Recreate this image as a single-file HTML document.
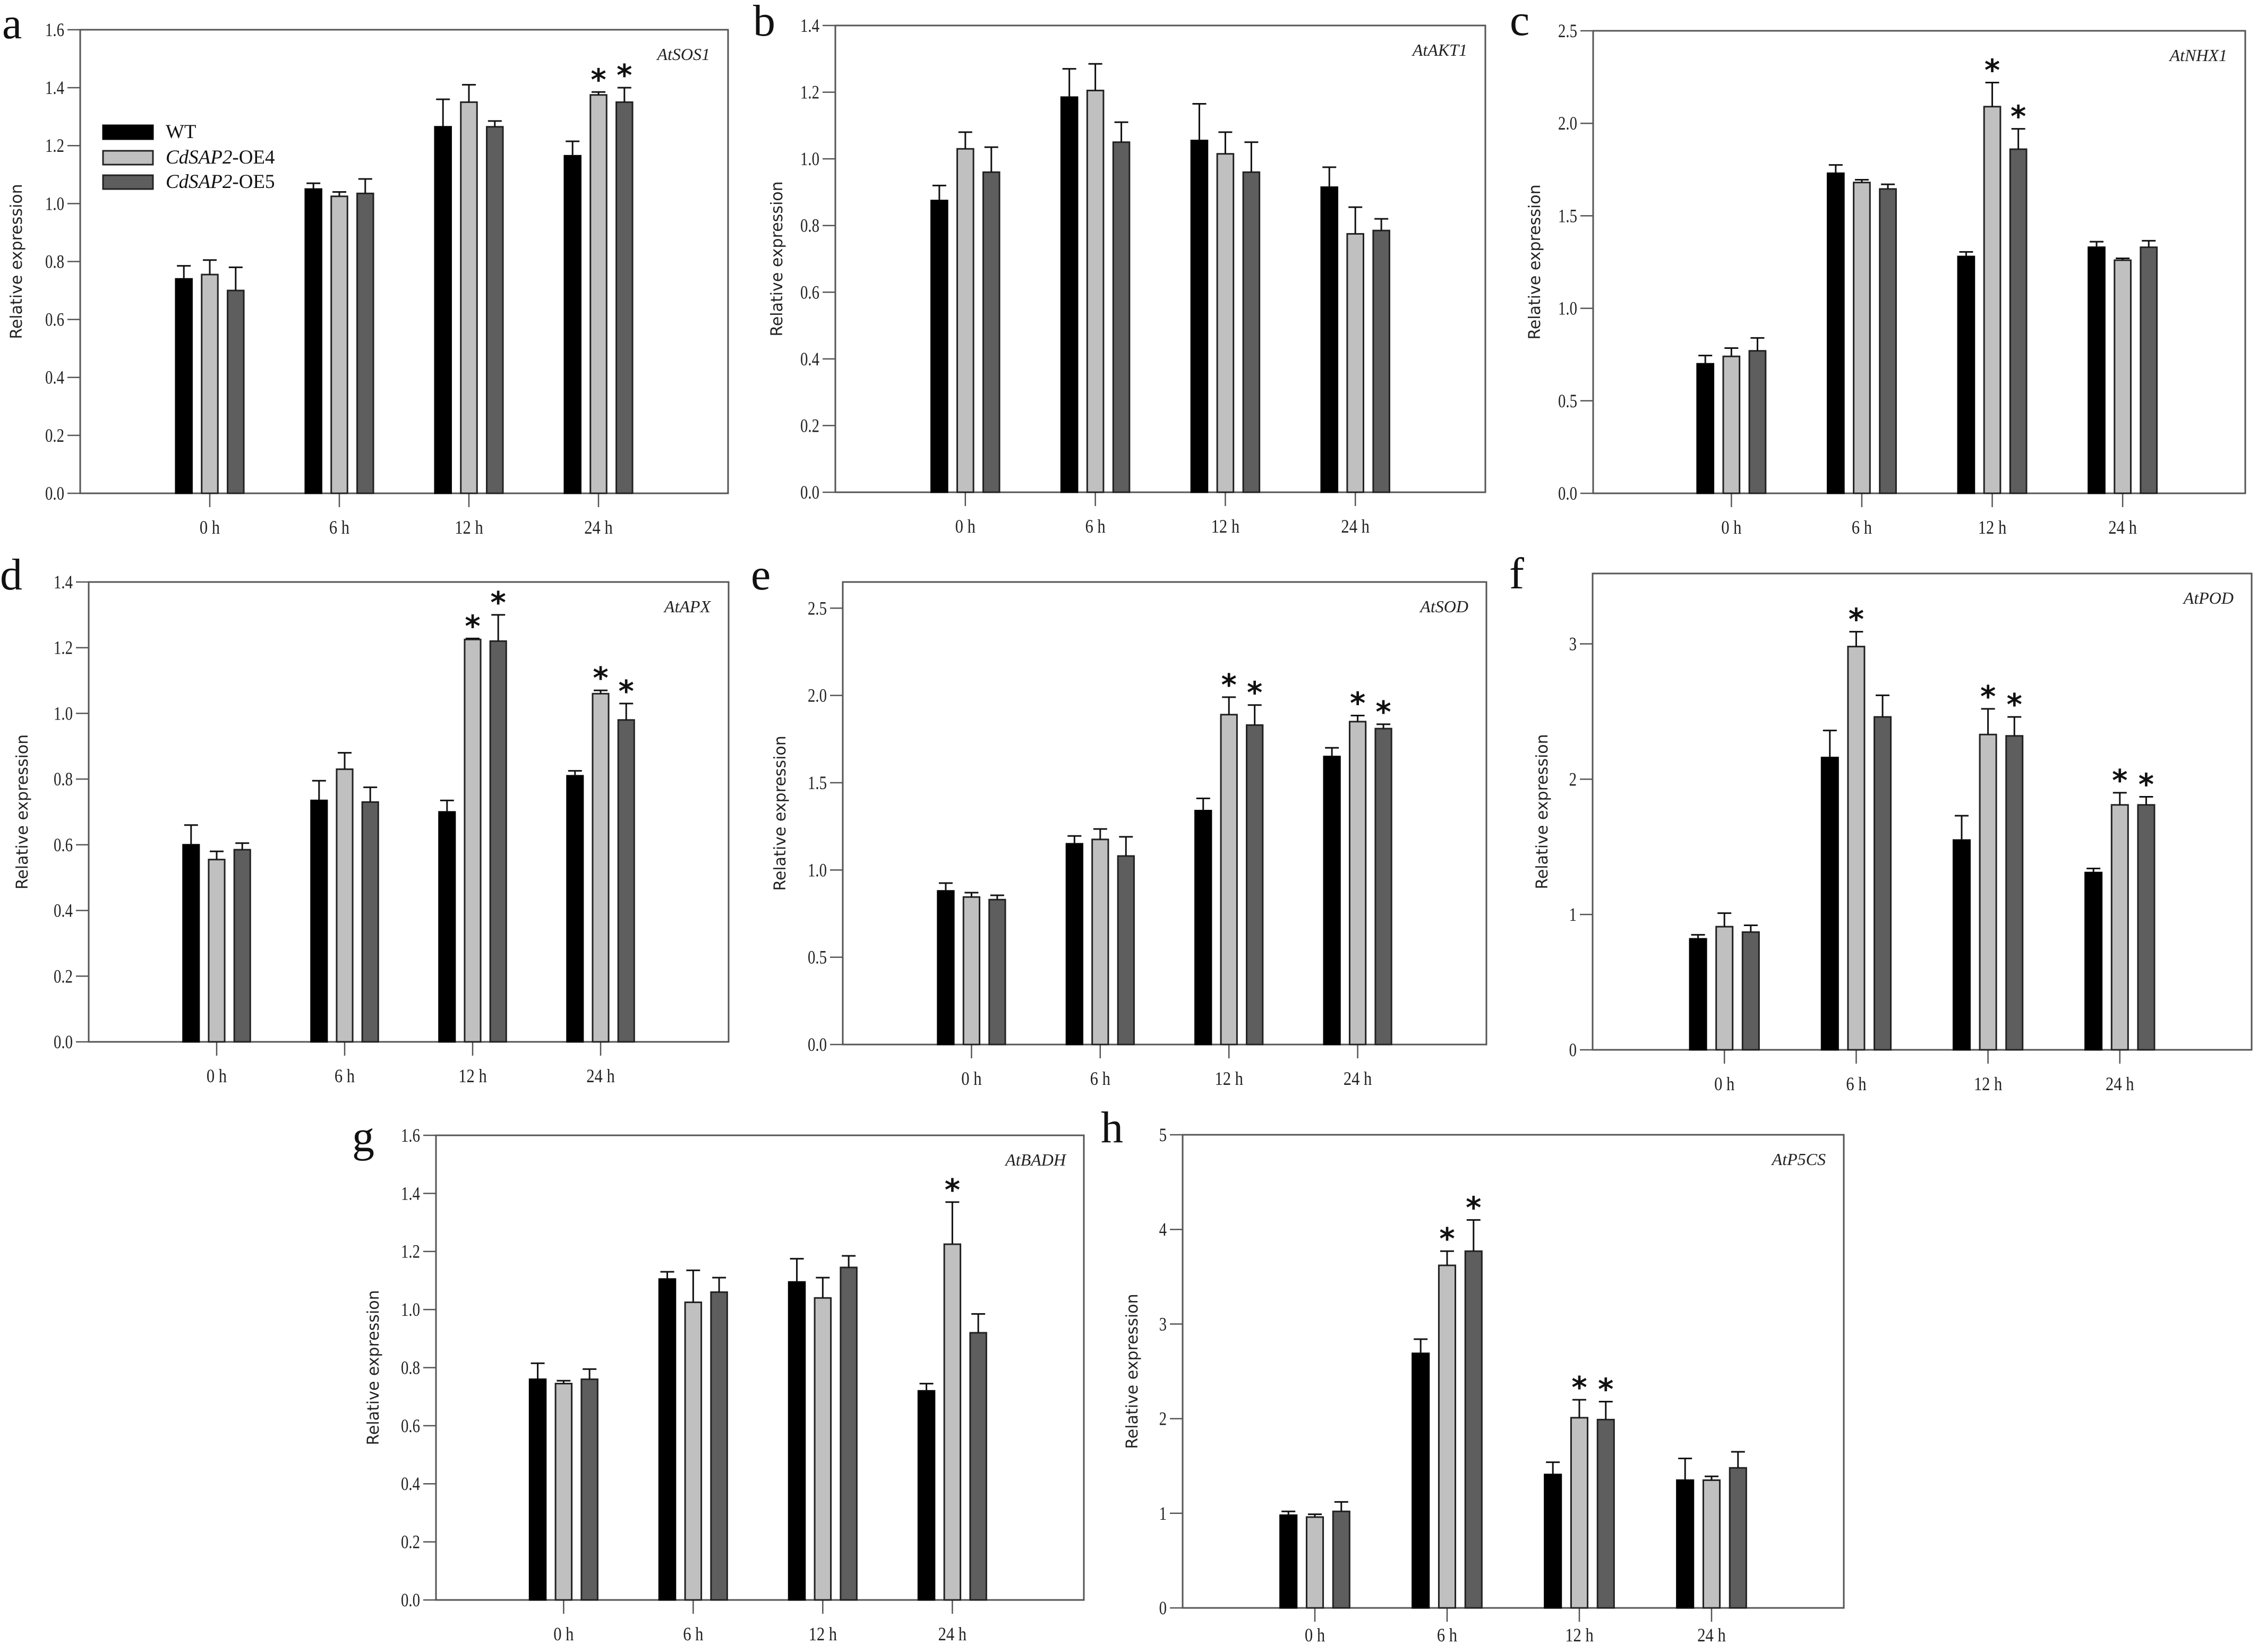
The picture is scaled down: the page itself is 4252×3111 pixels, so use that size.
<!DOCTYPE html>
<html><head><meta charset="utf-8"><style>
html,body{margin:0;padding:0;background:#fff;}
svg{display:block;}
</style></head><body>
<svg id="fig" width="4252" height="3111" viewBox="0 0 4252 3111" xmlns="http://www.w3.org/2000/svg">
<rect width="4252" height="3111" fill="#fff"/>
</svg>
<script>
// ---------- data ----------
const categories = ["0 h","6 h","12 h","24 h"];
const seriesNames = ["WT","OE4","OE5"];

const sos1_wt=[0.74,1.05,1.265,1.165], sos1_wt_err=[0.045,0.02,0.095,0.05];
const sos1_oe4=[0.755,1.025,1.35,1.375], sos1_oe4_err=[0.05,0.015,0.06,0.01];
const sos1_oe5=[0.70,1.035,1.265,1.35], sos1_oe5_err=[0.08,0.05,0.02,0.05];
const sos1_stars=[[3,1],[3,2]];
const sos1_ticks=[0,0.2,0.4,0.6,0.8,1.0,1.2,1.4,1.6];

const akt1_wt=[0.875,1.185,1.055,0.915], akt1_wt_err=[0.045,0.085,0.11,0.06];
const akt1_oe4=[1.03,1.205,1.015,0.775], akt1_oe4_err=[0.05,0.08,0.065,0.08];
const akt1_oe5=[0.96,1.05,0.96,0.785], akt1_oe5_err=[0.075,0.06,0.09,0.035];
const akt1_stars=[];
const akt1_ticks=[0,0.2,0.4,0.6,0.8,1.0,1.2,1.4];

const nhx1_wt=[0.70,1.73,1.28,1.33], nhx1_wt_err=[0.045,0.045,0.025,0.03];
const nhx1_oe4=[0.74,1.68,2.09,1.26], nhx1_oe4_err=[0.045,0.015,0.13,0.01];
const nhx1_oe5=[0.77,1.645,1.86,1.33], nhx1_oe5_err=[0.07,0.025,0.11,0.035];
const nhx1_stars=[[2,1],[2,2]];
const nhx1_ticks=[0,0.5,1.0,1.5,2.0,2.5];

const apx_wt=[0.60,0.735,0.70,0.81], apx_wt_err=[0.06,0.06,0.035,0.015];
const apx_oe4=[0.555,0.83,1.225,1.06], apx_oe4_err=[0.025,0.05,0.003,0.01];
const apx_oe5=[0.585,0.73,1.22,0.98], apx_oe5_err=[0.02,0.045,0.08,0.05];
const apx_stars=[[2,1],[2,2],[3,1],[3,2]];
const apx_ticks=[0,0.2,0.4,0.6,0.8,1.0,1.2,1.4];

const sod_wt=[0.88,1.15,1.34,1.65], sod_wt_err=[0.045,0.045,0.07,0.05];
const sod_oe4=[0.845,1.175,1.89,1.85], sod_oe4_err=[0.025,0.06,0.1,0.035];
const sod_oe5=[0.83,1.08,1.83,1.81], sod_oe5_err=[0.025,0.11,0.115,0.025];
const sod_stars=[[2,1],[2,2],[3,1],[3,2]];
const sod_ticks=[0,0.5,1.0,1.5,2.0,2.5];

const pod_wt=[0.82,2.16,1.55,1.31], pod_wt_err=[0.03,0.2,0.18,0.03];
const pod_oe4=[0.91,2.98,2.33,1.81], pod_oe4_err=[0.1,0.11,0.19,0.09];
const pod_oe5=[0.87,2.46,2.32,1.81], pod_oe5_err=[0.05,0.16,0.14,0.06];
const pod_stars=[[1,1],[2,1],[2,2],[3,1],[3,2]];
const pod_ticks=[0,1,2,3];

const badh_wt=[0.76,1.105,1.095,0.72], badh_wt_err=[0.055,0.025,0.08,0.025];
const badh_oe4=[0.745,1.025,1.04,1.225], badh_oe4_err=[0.01,0.11,0.07,0.145];
const badh_oe5=[0.76,1.06,1.145,0.92], badh_oe5_err=[0.035,0.05,0.04,0.065];
const badh_stars=[[3,1]];
const badh_ticks=[0,0.2,0.4,0.6,0.8,1.0,1.2,1.4,1.6];

const p5cs_wt=[0.98,2.69,1.41,1.35], p5cs_wt_err=[0.04,0.15,0.13,0.23];
const p5cs_oe4=[0.96,3.62,2.01,1.35], p5cs_oe4_err=[0.03,0.15,0.19,0.04];
const p5cs_oe5=[1.02,3.77,1.99,1.48], p5cs_oe5_err=[0.1,0.33,0.19,0.17];
const p5cs_stars=[[1,1],[1,2],[2,1],[2,2]];
const p5cs_ticks=[0,1,2,3,4,5];

// ---------- layout ----------
const NS="http://www.w3.org/2000/svg";
const svg=document.getElementById('fig');
function mk(tag,attrs,parent){const e=document.createElementNS(NS,tag);for(const k in attrs)e.setAttribute(k,attrs[k]);(parent||svg).appendChild(e);return e;}
const fills=["#000000","#c0c0c0","#5e5e5e"];
const strokes=["#000000","#222222","#222222"];

function panel(p){
  const g=mk('g',{});
  
  
  const W=p.x1-p.x0, H=p.yb-p.yt;
  const y=v=>p.yb-(v/p.ymax)*H;
  const cx=i=>p.x0+W*(p.c0+i*0.2);
  const bw=W*0.025, pitch=W*0.04;
  const fr=mk('rect',{x:p.x0,y:p.yt,width:W,height:H,fill:'none',stroke:'#555',"stroke-width":3},g);
  
  
  p.ticks.forEach(t=>{
    const yy=y(t);
    mk('line',{x1:p.x0-24,x2:p.x0,y1:yy,y2:yy,stroke:'#555',"stroke-width":2.5},g);
    const tx=mk('text',{x:p.x0-30,y:yy+12,"text-anchor":"end","font-family":"Liberation Serif, serif","font-size":36,fill:'#222',transform:`translate(${p.x0-30},0) scale(0.8,1) translate(${-(p.x0-30)},0)`},g);
    tx.textContent=p.fmt(t);
    
    
  });
  categories.forEach((c,i)=>{
    const xx=cx(i);
    mk('line',{x1:xx,x2:xx,y1:p.yb,y2:p.yb+26,stroke:'#555',"stroke-width":2.5},g);
    const tx=mk('text',{x:xx,y:p.yb+p.xl,"text-anchor":"middle","font-family":"Liberation Serif, serif","font-size":36,fill:'#222',transform:`translate(${xx},0) scale(0.85,1) translate(${-xx},0)`},g);
    tx.textContent=c;
    
    
  });
  const vals=[p.wt,p.oe4,p.oe5], errs=[p.wte,p.oe4e,p.oe5e];
  vals.forEach((arr,s)=>{
    arr.forEach((v,i)=>{
      const bx=cx(i)+(s-1)*pitch-bw/2;
      const r=mk('rect',{x:bx,y:y(v),width:bw,height:p.yb-y(v),fill:fills[s],stroke:strokes[s],"stroke-width":3},g);
      
      
      const et=y(v+errs[s][i]);
      const mx=bx+bw/2;
      const el=mk('path',{d:`M${mx},${y(v)} V${et} M${mx-13},${et} H${mx+13}`,stroke:'#111',"stroke-width":3,fill:'none'},g);
      
      
    });
  });
  p.stars.forEach(([i,s])=>{
    const v=vals[s][i]+errs[s][i];
    const mx=cx(i)+(s-1)*pitch;
    const st=mk('text',{x:mx,y:y(v)-4,"text-anchor":"middle","font-family":"DejaVu Sans, sans-serif","font-weight":"bold","font-size":56,fill:'#111'},g);
    st.textContent='*';
    
    
  });
  const gl=mk('text',{x:p.x1-34,y:p.yt+57,"text-anchor":"end","font-family":"Liberation Serif, serif","font-style":"italic","font-size":32,fill:'#222'},g);
  gl.textContent=p.gene;
  
  
  const ytx=p.x0-p.tOff, yty=(p.yt+p.yb)/2;
  const yt=mk('text',{x:ytx,y:yty,"text-anchor":"middle","font-family":"DejaVu Sans, sans-serif","font-size":30,fill:'#222',transform:`rotate(-90 ${ytx} ${yty})`},g);
  yt.textContent='Relative expression';
  
  
  const lt=mk('text',{x:p.lx,y:p.ly,"font-family":"Liberation Serif, serif","font-size":84,fill:'#111'},g);
  lt.textContent=p.letter;
  
  
}
const f1=v=>v.toFixed(1), f0=v=>v.toFixed(0);
panel({letter:'a',gene:'AtSOS1',x0:151,x1:1371,yt:56,yb:929,ymax:1.6,c0:0.2,xl:76,ticks:sos1_ticks,fmt:f1,wt:sos1_wt,wte:sos1_wt_err,oe4:sos1_oe4,oe4e:sos1_oe4_err,oe5:sos1_oe5,oe5e:sos1_oe5_err,stars:sos1_stars,tOff:110,lx:4,ly:72});
panel({letter:'b',gene:'AtAKT1',x0:1573,x1:2797,yt:48,yb:927,ymax:1.4,c0:0.2,xl:76,ticks:akt1_ticks,fmt:f1,wt:akt1_wt,wte:akt1_wt_err,oe4:akt1_oe4,oe4e:akt1_oe4_err,oe5:akt1_oe5,oe5e:akt1_oe5_err,stars:akt1_stars,tOff:100,lx:1418,ly:67});
panel({letter:'c',gene:'AtNHX1',x0:3000,x1:4228,yt:58,yb:929,ymax:2.5,c0:0.212,xl:76,ticks:nhx1_ticks,fmt:f1,wt:nhx1_wt,wte:nhx1_wt_err,oe4:nhx1_oe4,oe4e:nhx1_oe4_err,oe5:nhx1_oe5,oe5e:nhx1_oe5_err,stars:nhx1_stars,tOff:100,lx:2843,ly:66});
panel({letter:'d',gene:'AtAPX',x0:167,x1:1372,yt:1096,yb:1962,ymax:1.4,c0:0.2,xl:76,ticks:apx_ticks,fmt:f1,wt:apx_wt,wte:apx_wt_err,oe4:apx_oe4,oe4e:apx_oe4_err,oe5:apx_oe5,oe5e:apx_oe5_err,stars:apx_stars,tOff:115,lx:0,ly:1110});
panel({letter:'e',gene:'AtSOD',x0:1587,x1:2799,yt:1096,yb:1967,ymax:2.65,c0:0.2,xl:76,ticks:sod_ticks,fmt:f1,wt:sod_wt,wte:sod_wt_err,oe4:sod_oe4,oe4e:sod_oe4_err,oe5:sod_oe5,oe5e:sod_oe5_err,stars:sod_stars,tOff:108,lx:1414,ly:1110});
panel({letter:'f',gene:'AtPOD',x0:2999,x1:4240,yt:1080,yb:1977,ymax:3.52,c0:0.2,xl:76,ticks:pod_ticks,fmt:f0,wt:pod_wt,wte:pod_wt_err,oe4:pod_oe4,oe4e:pod_oe4_err,oe5:pod_oe5,oe5e:pod_oe5_err,stars:pod_stars,tOff:85,lx:2842,ly:1108});
panel({letter:'g',gene:'AtBADH',x0:821,x1:2041,yt:2138,yb:3013,ymax:1.6,c0:0.197,xl:76,ticks:badh_ticks,fmt:f1,wt:badh_wt,wte:badh_wt_err,oe4:badh_oe4,oe4e:badh_oe4_err,oe5:badh_oe5,oe5e:badh_oe5_err,stars:badh_stars,tOff:108,lx:663,ly:2168});
panel({letter:'h',gene:'AtP5CS',x0:2227,x1:3472,yt:2137,yb:3028,ymax:5,c0:0.2,xl:63,ticks:p5cs_ticks,fmt:f0,wt:p5cs_wt,wte:p5cs_wt_err,oe4:p5cs_oe4,oe4e:p5cs_oe4_err,oe5:p5cs_oe5,oe5e:p5cs_oe5_err,stars:p5cs_stars,tOff:85,lx:2073,ly:2151});

const lg=mk('g',{});


const legY=[236,284,330];
const legLabels=[["","WT"],["CdSAP2","-OE4"],["CdSAP2","-OE5"]];
legLabels.forEach((l,s)=>{
  const r=mk('rect',{x:194,y:legY[s],width:94,height:26,fill:fills[s],stroke:strokes[s],"stroke-width":3},lg);
  
  
  const t=mk('text',{x:312,y:legY[s]+24,"font-family":"Liberation Serif, serif","font-size":37,fill:'#111'},lg);
  
  
  if(l[0]){const it=mk('tspan',{"font-style":"italic"},t);it.textContent=l[0];}
  const rt=mk('tspan',{},t);rt.textContent=l[1];
});
</script>
</body></html>
